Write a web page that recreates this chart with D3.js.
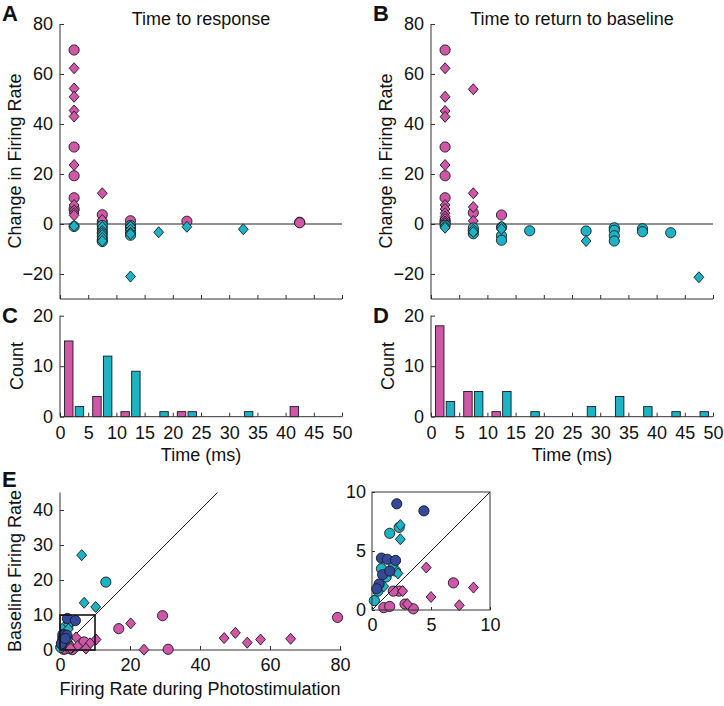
<!DOCTYPE html>
<html><head><meta charset="utf-8">
<script src="https://cdn.jsdelivr.net/npm/d3@7"></script>
<style>body{margin:0;background:#fff}svg{display:block}text{font-family:"Liberation Sans",Arial,Helvetica,sans-serif;fill:#111}</style>
</head><body><svg id="c" width="724" height="706"></svg>
<script>
// ---------- DATA ----------
// Panel A : time to response (bin centre ms, change in firing rate)
const respMagCircles = [[2.5,69.6],[2.5,30.8],[2.5,19.3],[2.5,10.5],[2.5,6.0],[7.5,3.7],[7.5,0.8],[12.5,1.3],[22.5,1.1],[42.5,0.7],[42.5,0.5]];
const respMagDiamonds = [[2.5,62.3],[2.5,54.2],[2.5,50.9],[2.5,45.4],[2.5,43.0],[2.5,23.6],[2.5,7.6],[2.5,5.5],[2.5,4.4],[2.5,3.5],[7.5,12.3],[7.5,1.6]];
const respCyanCircles = [[2.5,-1.0],[7.5,-0.6],[7.5,-2.0],[7.5,-3.5],[7.5,-5.0],[7.5,-6.3],[7.5,-7.0],[12.5,-0.6],[12.5,-1.5],[12.5,-3.0],[12.5,-4.5]];
const respCyanDiamonds = [[2.5,-0.8],[7.5,-1.2],[7.5,-2.8],[7.5,-3.6],[7.5,-4.4],[7.5,-5.6],[7.5,-6.8],[12.5,-1.0],[12.5,-2.3],[12.5,-3.5],[12.5,-4.0],[12.5,-21.0],[17.5,-3.3],[22.5,-1.1],[32.5,-2.1]];
// Panel B : time to return to baseline
const retMagCircles = [[2.5,69.6],[2.5,30.8],[2.5,19.3],[2.5,10.5],[2.5,1.5],[2.5,0.5],[7.5,4.5],[12.5,3.6]];
const retMagDiamonds = [[2.5,62.3],[2.5,50.9],[2.5,45.2],[2.5,42.9],[2.5,23.6],[2.5,7.6],[2.5,6.0],[2.5,4.3],[2.5,3.0],[2.5,2.0],[2.5,1.0],[2.5,0.3],[7.5,53.9],[7.5,12.3],[7.5,6.8],[7.5,1.2]];
const retCyanCircles = [[2.5,-0.5],[7.5,-3.9],[7.5,-2.7],[7.5,-1.6],[12.5,-1.3],[12.5,-4.7],[12.5,-6.5],[17.5,-2.7],[27.5,-2.8],[32.5,-1.5],[32.5,-2.5],[32.5,-4.7],[32.5,-6.8],[37.5,-1.9],[37.5,-3.1],[42.5,-3.5]];
const retCyanDiamonds = [[2.5,-0.8],[2.5,-1.5],[7.5,-2.3],[7.5,-3.2],[12.5,-1.0],[12.5,-2.0],[27.5,-6.8],[47.5,-21.3]];
// Histograms (bins 0-5, 5-10, ... 45-50)
const binStarts = [0,5,10,15,20,25,30,35,40,45];
const respCountMag  = [15,4,1,0,1,0,0,0,2,0];
const respCountCyan = [2,12,9,1,1,0,1,0,0,0];
const retCountMag   = [18,5,1,0,0,0,0,0,0,0];
const retCountCyan  = [3,5,5,1,0,2,4,2,1,1];
// Panel E : (firing rate during photostimulation, baseline firing rate)
const eMagCircles = [[29.3,9.8],[79.3,9.3],[16.8,6.1],[30.9,0.2],[6.9,2.3],[3.5,0.1],[2.3,1.6],[1.8,1.6],[1.0,0.2],[1.5,0.3],[2.8,0.5]];
const eMagDiamonds = [[20.2,7.6],[24.0,0.1],[46.9,3.4],[50.1,4.9],[53.5,2.1],[57.3,3.0],[65.9,3.2],[10.3,3.0],[8.6,1.9],[7.4,0.4],[4.6,3.6],[5.0,1.1],[2.6,1.6],[3.0,0.5]];
const eCyanCircles = [[13.1,19.4],[2.3,7.0],[1.5,6.5],[0.8,3.5],[1.2,2.8],[0.2,0.8],[0.5,1.6],[2.0,3.3]];
const eCyanDiamonds = [[6.2,27.1],[6.9,13.5],[10.2,12.3],[2.4,7.2],[2.4,6.0],[1.8,3.8],[2.2,3.1],[1.0,2.0]];
const eNavyCircles = [[2.1,9.0],[4.4,8.4],[0.8,4.4],[1.3,4.3],[2.0,4.2],[0.6,2.2],[0.9,3.0],[0.4,1.8],[1.5,3.3]];
const timeTicks = [0,5,10,15,20,25,30,35,40,45,50];
const changeTicks = [-20,0,20,40,60,80];
const countTicks = [0,10,20];
const eTicksX = [0,20,40,60,80];
const eTicksY = [0,10,20,30,40];
const insetTicks = [0,5,10];

// ---------- STYLE ----------
const MAG="#cf56a8", CYAN="#1bb3c5", NAVY="#34499c", AX="#333";
const FS=18;
const svg=d3.select("#c");
const diamond="M0,-5.5L4.9,0L0,5.5L-4.9,0Z";

function marks(g,data,sx,sy,shape,color){
  const sel=g.selectAll(null).data(data);
  if(shape==="c"){
    sel.enter().append("circle").attr("cx",d=>sx(d[0])).attr("cy",d=>sy(d[1])).attr("r",5.1)
      .attr("fill",color).attr("stroke","#1a1a1a").attr("stroke-width",0.9);
  } else {
    sel.enter().append("path").attr("d",diamond).attr("transform",d=>`translate(${sx(d[0])},${sy(d[1])})`)
      .attr("fill",color).attr("stroke","#1a1a1a").attr("stroke-width",0.9);
  }
}
function styleAxis(g){
  g.select(".domain").attr("stroke",AX).attr("stroke-width",1);
  g.selectAll(".tick line").attr("stroke",AX);
  g.selectAll(".tick text").attr("font-size",FS).attr("fill","#111")
    .attr("font-family",'"Liberation Sans",Arial,sans-serif');
}
function label(x,y,t,opt={}){
  const el=svg.append("text").attr("x",x).attr("y",y).text(t).attr("font-size",opt.size||FS);
  if(opt.anchor) el.attr("text-anchor",opt.anchor);
  if(opt.bold) el.attr("font-weight","bold");
  if(opt.rot) el.attr("transform",`rotate(-90,${x},${y})`);
  return el;
}

// ---------- SCATTER A/B ----------
function scatterPanel(x0,title,letter,mc,md,cc,cd){
  const sx=d3.scaleLinear().domain([0,50]).range([x0,x0+282]);
  const sy=d3.scaleLinear().domain([-30,80]).range([299,24]);
  const g=svg.append("g");
  const xa=g.append("g").attr("transform","translate(0,299)")
    .call(d3.axisBottom(sx).tickValues(timeTicks).tickSize(-4).tickFormat(""));
  styleAxis(xa);
  const ya=g.append("g").attr("transform",`translate(${x0},0)`)
    .call(d3.axisLeft(sy).tickValues(changeTicks).tickSize(-4).tickPadding(7).tickFormat(d=>d<0?"\u221220":d));
  styleAxis(ya);
  xa.select(".domain").attr("d",`M${x0},0H${x0+282}`);
  ya.select(".domain").attr("d",`M0,24V299`);
  g.append("line").attr("x1",sx(0)).attr("x2",sx(50)).attr("y1",sy(0)).attr("y2",sy(0)).attr("stroke","#222").attr("stroke-width",1);
  marks(g,mc,sx,sy,"c",MAG); marks(g,md,sx,sy,"d",MAG);
  marks(g,cc,sx,sy,"c",CYAN); marks(g,cd,sx,sy,"d",CYAN);
  label(x0+141,25,title,{anchor:"middle"});
  label(x0-58,21,letter,{bold:true,size:22});
  label(x0-39,161,"Change in Firing Rate",{anchor:"middle",rot:true});
}
scatterPanel(60,"Time to response","A",respMagCircles,respMagDiamonds,respCyanCircles,respCyanDiamonds);
scatterPanel(431,"Time to return to baseline","B",retMagCircles,retMagDiamonds,retCyanCircles,retCyanDiamonds);

// ---------- HISTOGRAMS C/D ----------
function histPanel(x0,letter,cm,cc){
  const sx=d3.scaleLinear().domain([0,50]).range([x0,x0+282]);
  const sy=d3.scaleLinear().domain([0,20]).range([416.7,315.7]);
  const g=svg.append("g");
  const bw=1.5, off=0.95;
  g.selectAll(null).data(binStarts.map((b,i)=>({b,v:cm[i]})).filter(d=>d.v>0)).enter().append("rect")
    .attr("x",d=>sx(d.b+2.5-off-bw/2)).attr("width",sx(bw)-sx(0)).attr("y",d=>sy(d.v)).attr("height",d=>sy(0)-sy(d.v))
    .attr("fill",MAG).attr("stroke","#1a1a1a").attr("stroke-width",0.9);
  g.selectAll(null).data(binStarts.map((b,i)=>({b,v:cc[i]})).filter(d=>d.v>0)).enter().append("rect")
    .attr("x",d=>sx(d.b+2.5+off-bw/2)).attr("width",sx(bw)-sx(0)).attr("y",d=>sy(d.v)).attr("height",d=>sy(0)-sy(d.v))
    .attr("fill",CYAN).attr("stroke","#1a1a1a").attr("stroke-width",0.9);
  const xa=g.append("g").attr("transform","translate(0,416.7)")
    .call(d3.axisBottom(sx).tickValues(timeTicks).tickSize(-4).tickPadding(10));
  styleAxis(xa);
  xa.select(".domain").attr("d",`M${x0},0H${x0+282}`);
  const ya=g.append("g").attr("transform",`translate(${x0},0)`)
    .call(d3.axisLeft(sy).tickValues(countTicks).tickSize(-4).tickPadding(7));
  styleAxis(ya);
  ya.select(".domain").attr("d",`M0,315.7V416.7`);
  label(x0+141,461,"Time (ms)",{anchor:"middle"});
  label(x0-58,323,letter,{bold:true,size:22});
  label(x0-37,366,"Count",{anchor:"middle",rot:true});
}
histPanel(60,"C",respCountMag,respCountCyan);
histPanel(431,"D",retCountMag,retCountCyan);

// ---------- PANEL E ----------
(function(){
  const sx=d3.scaleLinear().domain([0,80]).range([60,340]);
  const sy=d3.scaleLinear().domain([0,45]).range([650,492.5]);
  const g=svg.append("g");
  const xa=g.append("g").attr("transform","translate(0,650)")
    .call(d3.axisBottom(sx).tickValues(eTicksX).tickSize(-4).tickPadding(8));
  styleAxis(xa);
  xa.select(".domain").attr("d","M60,0H341.5");
  const ya=g.append("g").attr("transform","translate(60,0)")
    .call(d3.axisLeft(sy).tickValues(eTicksY).tickSize(-4).tickPadding(7));
  styleAxis(ya);
  ya.select(".domain").attr("d","M0,492.5V650");
  g.append("line").attr("x1",sx(0)).attr("y1",sy(0)).attr("x2",sx(45)).attr("y2",sy(45)).attr("stroke","#222").attr("stroke-width",1);
  marks(g,eMagCircles,sx,sy,"c",MAG); marks(g,eMagDiamonds,sx,sy,"d",MAG);
  marks(g,eCyanCircles,sx,sy,"c",CYAN); marks(g,eCyanDiamonds,sx,sy,"d",CYAN);
  marks(g,eNavyCircles,sx,sy,"c",NAVY);
  g.append("rect").attr("x",sx(0)).attr("y",sy(10)).attr("width",sx(10)-sx(0)).attr("height",sy(0)-sy(10))
    .attr("fill","none").attr("stroke","#111").attr("stroke-width",1.6);
  label(200,695,"Firing Rate during Photostimulation",{anchor:"middle"});
  label(2,487,"E",{bold:true,size:22});
  label(21,571,"Baseline Firing Rate",{anchor:"middle",rot:true});

  // inset (same data, zoomed to 0-10)
  const ix=d3.scaleLinear().domain([0,10]).range([372,490]);
  const iy=d3.scaleLinear().domain([0,10]).range([610,492]);
  const ig=svg.append("g");
  const inside=d=>d[0]<=10&&d[1]<=10;
  marks(ig,eMagCircles.filter(inside),ix,iy,"c",MAG); marks(ig,eMagDiamonds.filter(inside),ix,iy,"d",MAG);
  marks(ig,eCyanCircles.filter(inside),ix,iy,"c",CYAN); marks(ig,eCyanDiamonds.filter(inside),ix,iy,"d",CYAN);
  marks(ig,eNavyCircles.filter(inside),ix,iy,"c",NAVY);
  ig.append("line").attr("x1",ix(0)).attr("y1",iy(0)).attr("x2",ix(10)).attr("y2",iy(10)).attr("stroke","#222").attr("stroke-width",1);
  ig.append("rect").attr("x",ix(0)).attr("y",iy(10)).attr("width",ix(10)-ix(0)).attr("height",iy(0)-iy(10))
    .attr("fill","none").attr("stroke",AX).attr("stroke-width",1);
  const ixa=ig.append("g").attr("transform","translate(0,610)")
    .call(d3.axisBottom(ix).tickValues(insetTicks).tickSize(-3).tickPadding(8));
  styleAxis(ixa); ixa.select(".domain").remove();
  const iya=ig.append("g").attr("transform","translate(372,0)")
    .call(d3.axisLeft(iy).tickValues(insetTicks).tickSize(-3).tickPadding(6));
  styleAxis(iya); iya.select(".domain").remove();
})();
</script></body></html>
